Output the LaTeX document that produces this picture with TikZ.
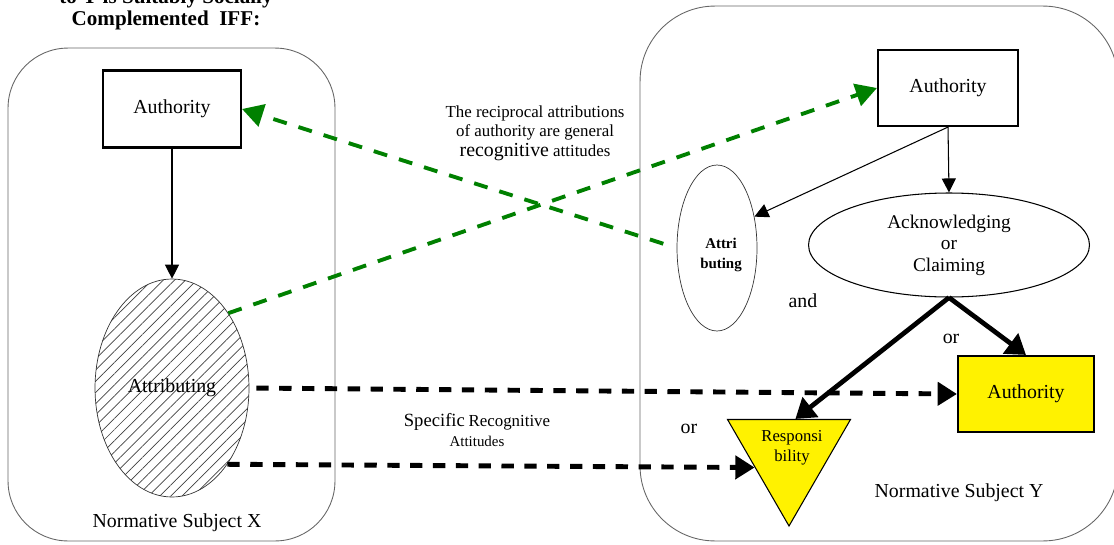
\documentclass[tikz,border=0pt]{standalone}
\usepackage{fontspec}
\setmainfont{Liberation Serif}
\usetikzlibrary{positioning, arrows.meta, shapes.geometric, patterns.meta}
\tikzset{
  regionbox/.style={rectangle, draw=black!60, line width=0.5pt, inner sep=0pt},
  authbox/.style={rectangle, draw=black, line width=1.2pt,
                  minimum width=2.76cm, minimum height=1.54cm,
                  font=\fontsize{11.3}{13}\selectfont},
  attrell/.style={ellipse, draw=black!80, line width=0.4pt, inner sep=0pt,
                  align=center},
  respbox/.style={regular polygon, regular polygon sides=3,
                  shape border rotate=180, draw=black, fill=yellow,
                  line width=0.6pt, minimum size=2.84cm, inner sep=0pt},
  plainlbl/.style={font=\fontsize{11.3}{13}\selectfont, inner sep=1pt, align=center},
  thinarr/.style={-{Triangle[length=8pt, width=8pt]}, line width=0.6pt},
  thickarr/.style={-{Triangle[length=11pt, width=14pt]}, line width=2.7pt},
  greenarr/.style={-{Triangle[length=12pt, width=13pt]}, line width=2.2pt,
                   draw=green!50!black, dash pattern=on 8pt off 7pt},
  blackarr/.style={-{Triangle[length=11pt, width=13pt]}, line width=2.8pt,
                   dash pattern=on 7pt off 6pt},
}

\begin{document}
\begin{tikzpicture}[x=0.02cm, y=-0.02cm]

  \useasboundingbox (0,0) rectangle (1114,544);

  %% Heading (top line cut off)
  \node[font=\bfseries\fontsize{12}{12.5}\selectfont, align=center] (title)
    at (166,9) {to Y is Suitably Socially\\Complemented\ \ IFF:};

  %% Normative subjects
  \node[regionbox, rounded corners=1.2cm, minimum width=6.54cm,
        minimum height=9.86cm] (regX) at (171.5,294.5) {};
  \node[regionbox, rounded corners=1.5cm, minimum width=9.56cm,
        minimum height=10.7cm] (regY) at (879,273.5) {};
  \node[plainlbl] (nameX) at (177,523) {Normative Subject X};
  \node[plainlbl] (nameY) at (959,493) {Normative Subject Y};

  %% Subject X
  \node[authbox] (authX) at (172,109) {Authority};
  \node[attrell, minimum width=3.08cm, minimum height=4.36cm,
        pattern={Lines[angle=45, distance=4.5pt, line width=0.4pt]},
        pattern color=black!75, font=\fontsize{11.3}{13}\selectfont]
    (attrX) at (172,388) {Attributing};

  %% Subject Y
  \node[authbox, minimum width=2.8cm, minimum height=1.52cm] (authY) at (948,88) {Authority};
  \node[attrell, minimum width=1.6cm, minimum height=3.32cm] (attrY) at (717,248) {};
  \node[font=\bfseries\fontsize{8.5}{11.3}\selectfont, align=center] (attrYTxt)
    at (721,255) {Attri\\buting};
  \node[attrell, draw=black, line width=0.6pt, minimum width=5.62cm,
        minimum height=2.08cm, font=\fontsize{11}{12.2}\selectfont]
    (ack) at (949,245) {Acknowledging\\or\\Claiming};
  \node[authbox, fill=yellow, minimum width=2.72cm, minimum height=1.52cm]
    (authY2) at (1026,394) {Authority};
  \node[respbox] (resp) at (789,455) {};
  \node[font=\fontsize{9.5}{11.5}\selectfont, align=center] (respTxt)
    at (792,448) {Responsi\\bility};

  %% Small words
  \node[plainlbl] (and) at (803,301) {and};
  \node[plainlbl] (orA) at (951,339) {or};
  \node[plainlbl] (orB) at (689,429) {or};

  \node[font=\fontsize{9.6}{11}\selectfont, align=center] (recip) at (535,133)
    {The reciprocal attributions\\of authority are general\\
     {\fontsize{11.3}{11}\selectfont recognitive} attitudes};
  \node[font=\fontsize{8.5}{11.5}\selectfont, align=center] (specific) at (477,430)
    {{\fontsize{10.6}{11.5}\selectfont Specific} {\fontsize{9.6}{11.5}\selectfont Recognitive}\\Attitudes};

  %% Arrows
  \draw[thinarr] (authX) -- (attrX);
  \draw[thinarr] (authY.south) -- (ack.north);
  \draw[thinarr] (authY.south) -- (attrY.40);
  \draw[thickarr] (ack.south) -- (authY2.north);
  \draw[thickarr] (ack.south) -- (resp.80);

  \draw[greenarr] (attrX.53) -- (authY.west);
  \draw[greenarr, shorten <=8pt] (attrY.west) -- (authX.east);

  \draw[blackarr, shorten <=4pt] (attrX.east) -- (authY2.west);
  \draw[blackarr] (attrX.-54) -- (resp.200);

\end{tikzpicture}
\end{document}
